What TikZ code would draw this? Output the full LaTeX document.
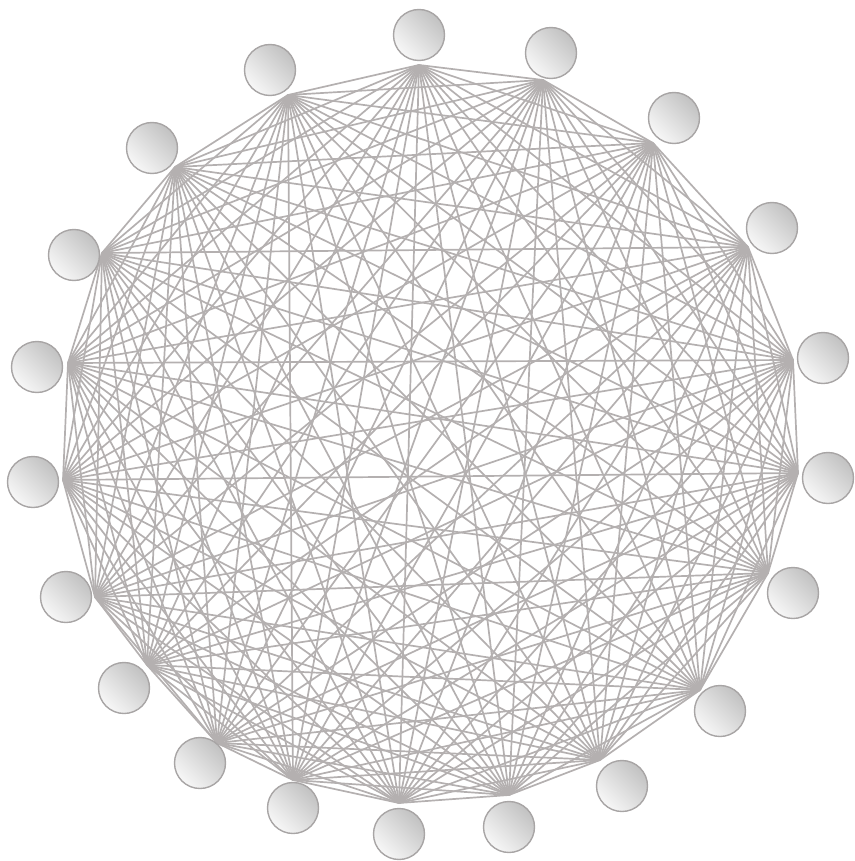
\documentclass[tikz,border=0pt]{standalone}
\usetikzlibrary{positioning}
\definecolor{edgegray}{RGB}{180,176,176}
\definecolor{rimgray}{RGB}{168,165,165}

\begin{document}
\begin{tikzpicture}[
    x=1pt, y=-1pt,
    vertex/.style={circle, draw=rimgray, line width=1.4pt, minimum size=51pt, inner sep=0pt, top color=black!24, bottom color=black!3, shading angle=-45},
    edge/.style={draw=edgegray, line width=1.7pt}
]
    \useasboundingbox (0,0) rectangle (854,861);

    % vertex centres and the points where the edges meet
    \foreach \i/\x/\y/\cx/\cy in {
        1/419/35/419/65, 2/551/53/543/80, 3/674/118/653/143, 4/772/228/748/247,
        5/823/358/793/360, 6/828/478/798/473, 7/793/593/768/573, 8/720/711/700/690,
        9/622/786/600/760, 10/509/827/509/795, 11/399/834/399/803, 12/293/808/293/780,
        13/200/763/217/743, 14/124/688/147/665, 15/66/597/95/597, 16/33/482/63/480,
        17/37/367/68/363, 18/74/255/102/253, 19/152/148/175/167, 20/270/70/288/95} {
        \coordinate (p\i) at (\x,\y);
        \coordinate (c\i) at (\cx,\cy);
    }

    % complete graph
    \foreach \i in {1,...,19} {
        \pgfmathtruncatemacro\nxt{\i+1}
        \foreach \j in {\nxt,...,20}
            \draw [edge] (c\i) -- (c\j);
    }

    \foreach \i in {1,...,20}
        \node [vertex] (n\i) at (p\i) {};
\end{tikzpicture}
\end{document}
